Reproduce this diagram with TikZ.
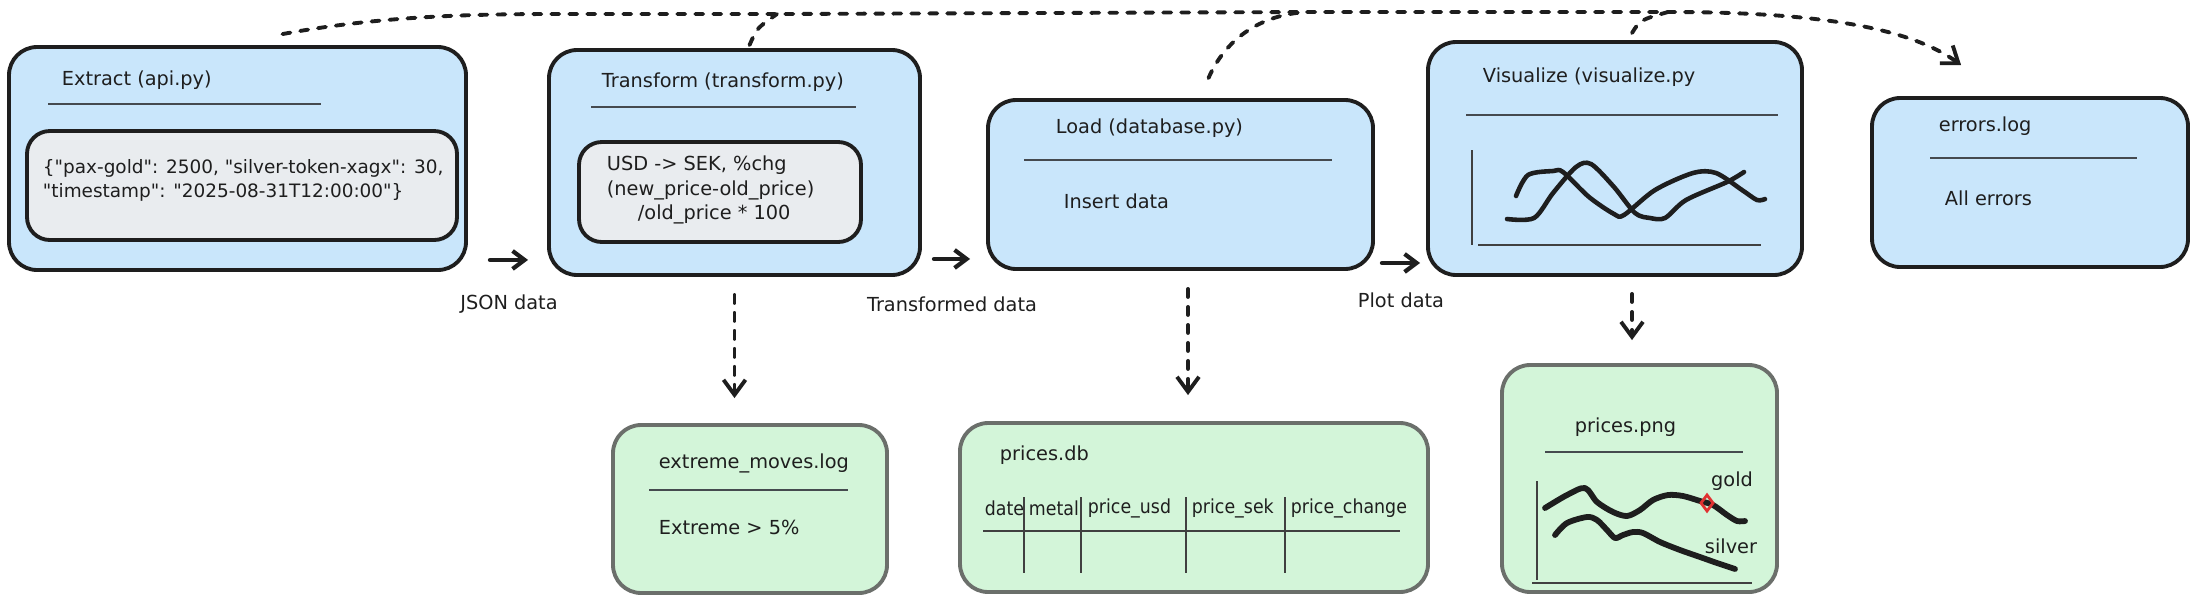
\documentclass[tikz,border=0pt]{standalone}
\usepackage{fontspec}
\setmainfont{DejaVu Sans}[Ligatures=TeXOff]
\newfontfamily\narrowfont{DejaVu Sans}[FakeStretch=0.9, Ligatures=TeXOff]
\usetikzlibrary{arrows.meta, positioning, calc}
\definecolor{cink}{HTML}{1E1E1E}
\definecolor{cblue}{HTML}{C9E6FB}
\definecolor{cgreen}{HTML}{D3F5D9}
\definecolor{cgrey}{HTML}{E9ECEF}
\definecolor{cedge}{HTML}{6B6F6B}
\definecolor{crule}{HTML}{454A4F}
\definecolor{cred}{HTML}{E03131}
\tikzset{
  every picture/.style={font=\fontsize{11}{13.7}\selectfont, line width=2.2pt, text=cink},
  wh/.style 2 args={minimum width=#1*0.02cm, minimum height=#2*0.02cm},
  stage/.style={draw=cink, fill=cblue, rounded corners=16pt, inner sep=0pt},
  codebox/.style={draw=cink, fill=cgrey, rounded corners=13pt, inner sep=0pt},
  store/.style={draw=cedge, fill=cgreen, rounded corners=16pt, inner sep=0pt},
  txt/.style={anchor=west, align=left, inner sep=0pt},
  colhead/.style={anchor=west, inner sep=0pt, font=\narrowfont\fontsize{11}{13}\selectfont},
  rule/.style={draw=crule, line width=1.1pt},
  axis/.style={draw=cink!85, line width=0.9pt},
  curve/.style={draw=cink, line width=2.6pt, line cap=round, line join=round},
  flow/.style={-{Straight Barb[length=2.4mm, width=3.6mm]}, draw=cink, line width=2.4pt, line cap=round},
  dashflow/.style={draw=cink, line width=2.2pt, line cap=round, dash pattern=on 0.16cm off 0.2cm},
  dashtip/.style={-{Straight Barb[length=3mm, width=4.4mm]}},
  flowtext/.style={inner sep=0pt},
}

\begin{document}
\begin{tikzpicture}[x=0.02cm, y=-0.02cm]
  \useasboundingbox (0,0) rectangle (2200,603);
  % pipeline stages
  \node[stage, wh={457}{223}] (ext) at (237.5,158.5) {};
  \node[stage, wh={371}{225}] (tr) at (734.5,162.5) {};
  \node[stage, wh={385}{169}] (ld) at (1180.5,184.5) {};
  \node[stage, wh={374}{233}] (viz) at (1615,158.5) {};
  \node[stage, wh={316}{169}] (err) at (2030,182.5) {};
  % outputs
  \node[store, wh={274}{168}] (xm) at (750,509) {};
  \node[store, wh={468}{169}] (db) at (1194,507.5) {};
  \node[store, wh={275}{227}] (png) at (1639.5,478.5) {};

  % extract
  \node[txt] (extT) at (60,80) {Extract (api.py)};
  \draw[rule] (48,104) -- (321,104);
  \node[codebox, wh={430}{109}] (extin) at (242,185.5) {};
  \node[txt, font=\fontsize{10.5}{13.7}\selectfont] (extC) at (41,180)
    {\{"pax-gold": 2500, "silver-token-xagx": 30,\\"timestamp": "2025-08-31T12:00:00"\}};
  % transform
  \node[txt] (trT) at (600,82) {Transform (transform.py)};
  \draw[rule] (591,107) -- (856,107);
  \node[codebox, wh={282}{100}] (trin) at (720,192) {};
  \node[txt, font=\fontsize{11}{13.9}\selectfont] (trC) at (605,190)
    {USD -> SEK, \%chg\\(new\_price-old\_price)\\\hspace*{0.62cm}/old\_price * 100};
  % load
  \node[txt] (ldT) at (1054,128) {Load (database.py)};
  \draw[rule] (1024,160) -- (1332,160);
  \node[txt] (ldC) at (1062,201) {Insert data};
  % visualize
  \node[txt] (vizT) at (1481,77) {Visualize (visualize.py};
  \draw[rule] (1466,115) -- (1778,115);
  \draw[axis] (1472,150) -- (1472,245);
  \draw[axis] (1478,245) -- (1761,245);
  \draw[curve] plot[smooth] coordinates {(1507,219) (1534,218) (1553,193) (1576,167) (1591,164)
    (1614,187) (1635,213) (1650,218) (1665,218) (1686,200) (1727,182) (1744,172)};
  \draw[curve] plot[smooth] coordinates {(1516,196) (1528,175) (1553,171) (1563,172) (1589,197)
    (1614,214) (1624,215) (1655,190) (1693,173) (1716,173) (1742,190) (1757,200) (1765,199)};
  % errors
  \node[txt] (errT) at (1937,126) {errors.log};
  \draw[rule] (1930,158) -- (2137,158);
  \node[txt] (errC) at (1943,198) {All errors};

  % extreme moves
  \node[txt] (xmT) at (657,463) {extreme\_moves.log};
  \draw[rule] (649,490) -- (848,490);
  \node[txt] (xmC) at (657,527) {Extreme > 5\%};
  % database table
  \node[txt] (dbT) at (998,455) {prices.db};
  \node[colhead] (hdate) at (983,508) {date};
  \node[colhead] (hmetal) at (1027,508) {metal};
  \node[colhead] (husd) at (1086,508) {price\_usd};
  \node[colhead] (hsek) at (1190,508) {price\_sek};
  \node[colhead] (hchg) at (1289,508) {price\_change};
  \draw[axis] (983,531) -- (1400,531);
  \draw[axis] (1024,497) -- (1024,573);
  \draw[axis] (1081,497) -- (1081,573);
  \draw[axis] (1186,497) -- (1186,573);
  \draw[axis] (1285,497) -- (1285,573);
  % price chart
  \node[txt] (pngT) at (1573,427) {prices.png};
  \draw[rule] (1545,452) -- (1743,452);
  \draw[axis] (1537,481) -- (1537,580);
  \draw[axis] (1532,583) -- (1752,583);
  \draw[curve, line width=3.3pt] plot[smooth] coordinates {(1545,508) (1567,495) (1585,488) (1597,502)
    (1613,512) (1627,516) (1640,510) (1653,500) (1668,495) (1683,496) (1700,501) (1713,505)
    (1727,515) (1737,521) (1745,521)};
  \draw[curve, line width=3.3pt] plot[smooth] coordinates {(1555,535) (1567,523) (1587,517) (1597,520)
    (1607,530) (1615,538) (1623,535) (1633,532) (1643,533) (1660,542) (1680,550) (1700,557)
    (1717,563) (1735,569)};
  \draw[draw=cred, line width=1.6pt] (1707,495) -- (1713,503) -- (1707,511) -- (1701,503) -- cycle;
  \node[inner sep=0pt] (goldT) at (1732,481) {gold};
  \node[inner sep=0pt] (silverT) at (1731,546) {silver};

  % data flow
  \draw[flow] ([shift={(22,-12)}]ext.south east) -- node[flowtext, yshift=-0.88cm] (jsonT) {JSON data}
    ([shift={(-19,-17)}]tr.south west);
  \draw[flow] ([shift={(12,-18)}]tr.south east) -- node[flowtext, yshift=-0.9cm] (trdT) {Transformed data}
    ([shift={(-16,-12)}]ld.south west);
  \draw[flow] ([shift={(7,-8)}]ld.south east) -- node[flowtext, yshift=-0.74cm] (plotT) {Plot data}
    ([shift={(-6,-14)}]viz.south west);

  % side outputs
  \draw[dashflow, dashtip, shorten <=0.36cm, shorten >=0.5cm] (tr.south) -- (tr.south |- xm.north);
  \draw[dashflow, dashtip, shorten <=0.36cm, shorten >=0.52cm] ([xshift=0.15cm]ld.south) -- ([xshift=0.15cm]ld.south |- db.north);
  \draw[dashflow, dashtip, shorten <=0.34cm, shorten >=0.46cm] ([xshift=0.34cm]viz.south) -- ([xshift=0.34cm]viz.south |- png.north);

  % error logging
  \coordinate (jtr) at (777,14);
  \coordinate (jld) at (1308,12);
  \coordinate (jviz) at (1668,12);
  \coordinate (errtip) at ([shift={(91,-31)}]err.north west);
  \draw[dashflow, dashtip] ([shift={(45,-11)}]ext.north) .. controls (380,16) and (470,14) .. (560,14)
    -- (jtr) -- (jld) -- (jviz) .. controls (1820,12) and (1910,28) .. (errtip);
  \draw[dashflow] ([shift={(15,-3)}]tr.north) .. controls (757,28) .. (jtr);
  \draw[dashflow] ([shift={(28,-20)}]ld.north) .. controls (1225,40) and (1260,14) .. (jld);
  \draw[dashflow] ([shift={(17,-7)}]viz.north) .. controls (1640,20) .. (jviz);
\end{tikzpicture}
\end{document}
